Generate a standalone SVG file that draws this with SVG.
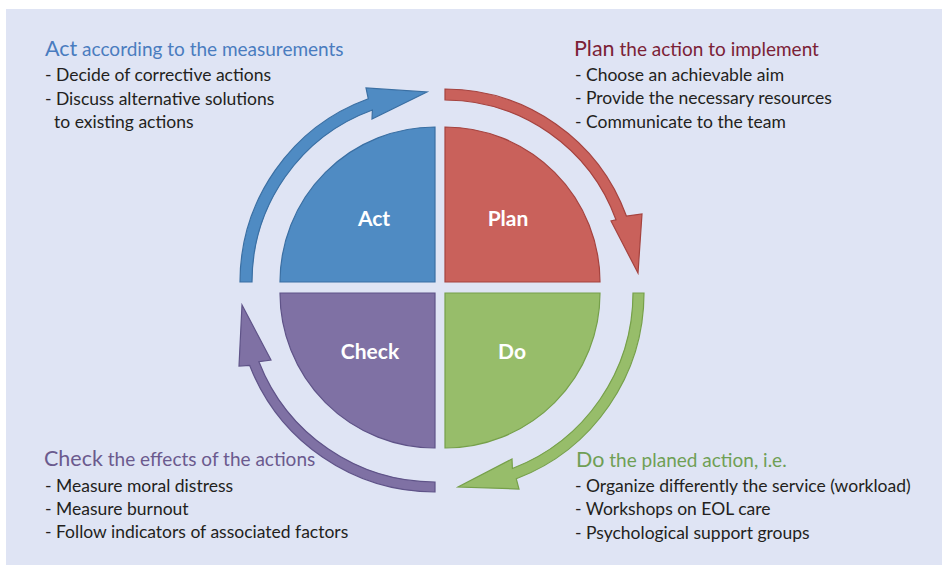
<svg xmlns="http://www.w3.org/2000/svg" width="942" height="565" viewBox="0 0 942 565">
<style>
text{font-family:Lato,"Open Sans","Liberation Sans",sans-serif}
.body{font-size:17.5px;fill:#231f20}
.head{font-size:19px}
.big{font-size:21.5px}
.lbl{font-size:21px;font-weight:bold;fill:#ffffff;text-anchor:middle}
.q{stroke-width:1.2}
</style>
<rect x="0" y="0" width="942" height="565" fill="#ffffff"/>
<rect x="6" y="9" width="936" height="556" fill="#dfe4f4"/>
<g id="connectors">
<path id="arrow-act" d="M240,282 A195,195 0 0 1 368.3,98.8 L366,88 L427,92 L372,119 L372.4,110 A183,183 0 0 0 252,282 Z" fill="#4f8bc3" stroke="#3a6fa3" stroke-width="1.2"/>
<path id="arrow-plan" d="M445,89 A193,193 0 0 1 626.4,216 L642,214 L638,273 L611,221 L616,219.8 A182,182 0 0 0 445,100 Z" fill="#c9615b" stroke="#a5433f" stroke-width="1.2"/>
<path id="arrow-do" d="M644,293 A199,199 0 0 1 516.3,478.8 L519,489 L458,487 L512,459 L512.4,468.5 A188,188 0 0 0 633,293 Z" fill="#97bd6a" stroke="#76a04a" stroke-width="1.2"/>
<path id="arrow-check" d="M435,492 A199,199 0 0 1 249.6,365.3 L239,366 L242,305 L271,360 L258.9,361.7 A189,189 0 0 0 435,482 Z" fill="#7f71a4" stroke="#5f5388" stroke-width="1.2"/>
</g>
<g id="act">
<path class="q" d="M435,282 L280,282 A155,155 0 0 1 435,127 Z" fill="#4f8bc3" stroke="#3a6fa3"/>
<text class="lbl" x="374" y="226">Act</text>
</g>
<g id="plan">
<path class="q" d="M445,282 L445,127 A155,155 0 0 1 600,282 Z" fill="#c9615b" stroke="#a5433f"/>
<text class="lbl" x="508" y="226">Plan</text>
</g>
<g id="do">
<path class="q" d="M445,293 L600,293 A155,155 0 0 1 445,448 Z" fill="#97bd6a" stroke="#76a04a"/>
<text class="lbl" x="512" y="359">Do</text>
</g>
<g id="check">
<path class="q" d="M435,293 L435,448 A155,155 0 0 1 280,293 Z" fill="#7f71a4" stroke="#5f5388"/>
<text class="lbl" x="370" y="359">Check</text>
</g>
<g id="act-text">
<text class="head" x="45" y="56" fill="#4a7cbf"><tspan class="big">Act</tspan> according to the measurements</text>
<text class="body" x="45" y="81">- Decide of corrective actions</text>
<text class="body" x="45" y="105">- Discuss alternative solutions</text>
<text class="body" x="54" y="128">to existing actions</text>
</g>
<g id="plan-text">
<text class="head" x="574" y="56" fill="#7b2136"><tspan class="big">Plan</tspan> the action to implement</text>
<text class="body" x="575" y="81">- Choose an achievable aim</text>
<text class="body" x="575" y="104">- Provide the necessary resources</text>
<text class="body" x="575" y="128">- Communicate to the team</text>
</g>
<g id="check-text">
<text class="head" x="44" y="466" fill="#6b5a8e"><tspan class="big">Check</tspan> the effects of the actions</text>
<text class="body" x="45" y="492">- Measure moral distress</text>
<text class="body" x="45" y="515">- Measure burnout</text>
<text class="body" x="45" y="538">- Follow indicators of associated factors</text>
</g>
<g id="do-text">
<text class="head" x="576" y="467" fill="#6f9f55"><tspan class="big">Do</tspan> the planed action, i.e.</text>
<text class="body" x="575" y="492">- Organize differently the service (workload)</text>
<text class="body" x="575" y="515">- Workshops on EOL care</text>
<text class="body" x="575" y="539">- Psychological support groups</text>
</g>
</svg>
